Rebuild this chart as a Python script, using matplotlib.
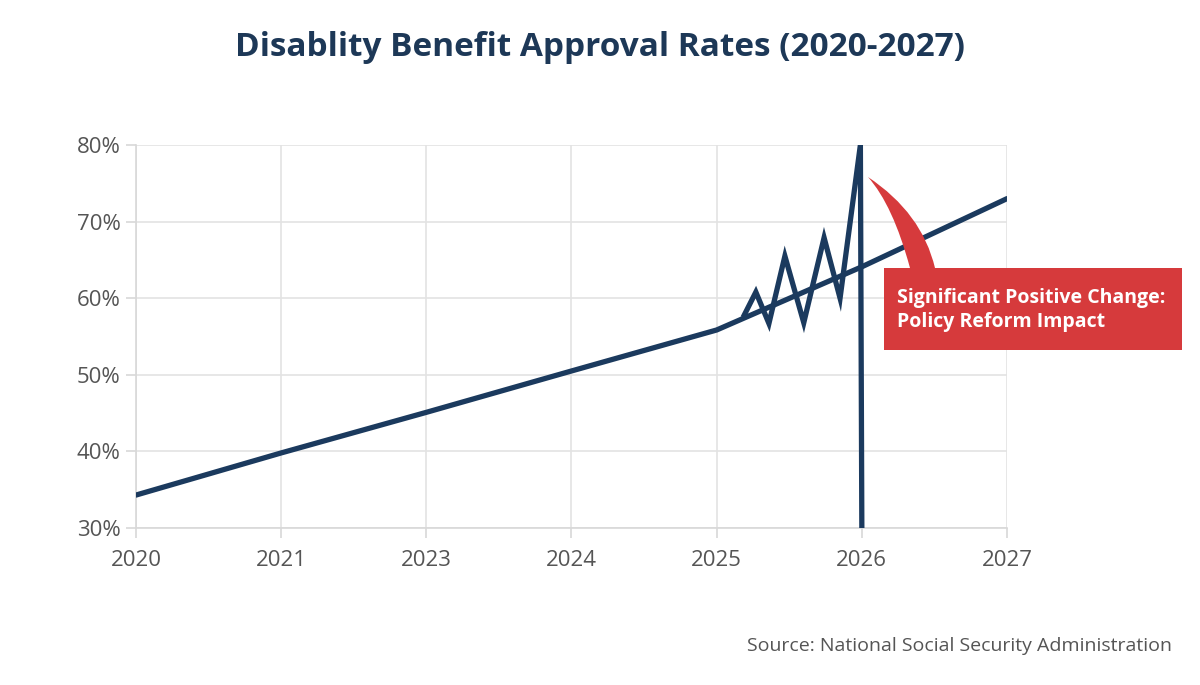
import matplotlib
matplotlib.use("Agg")
import matplotlib.pyplot as plt
from matplotlib.patches import Rectangle, PathPatch
from matplotlib.path import Path

# ---- data ----
year_labels = ["2020", "2021", "2023", "2024", "2025", "2026", "2027"]
trend_values = [34.3, 39.8, 45.1, 50.5, 55.85, 64.1, 73.0]
spike_pos = [4.19, 4.27, 4.36, 4.47, 4.60, 4.74, 4.85, 4.99, 5.0]
spike_values = [57.8, 60.8, 56.7, 65.5, 56.8, 67.9, 60.0, 80.0, 30.0]
y_ticks = [30, 40, 50, 60, 70, 80]

W, H = 1200, 685
fig = plt.figure(figsize=(W / 100, H / 100), dpi=100)
plt.rcParams['font.family'] = ['Open Sans', 'DejaVu Sans']

def fx(px):
    return px / W

def fy(py):
    return 1 - py / H

ax = fig.add_axes([fx(136), fy(528), fx(1007) - fx(136), fy(145) - fy(528)])
navy = "#1b3a5e"
x = list(range(len(year_labels)))
ax.plot(x, trend_values, color=navy, lw=3.8, solid_capstyle="round", zorder=3)
ax.plot(spike_pos, spike_values, color=navy, lw=3.8, solid_joinstyle="miter", zorder=3)

ax.set_xlim(0, 6)
ax.set_ylim(30, 80)
ax.set_xticks(x)
ax.set_xticklabels(year_labels)
ax.set_yticks(y_ticks)
ax.set_yticklabels([f"{v}%" for v in y_ticks])
ax.grid(True, color="#e3e3e3", lw=1.2)
ax.set_axisbelow(True)
for s in ["top", "right"]:
    ax.spines[s].set_visible(False)
for s in ["left", "bottom"]:
    ax.spines[s].set_color("#d8d8d8")
    ax.spines[s].set_linewidth(1.2)
ax.tick_params(axis="both", colors="#d8d8d8", labelcolor="#555555", labelsize=16, length=7, width=1.2)
ax.tick_params(axis="x", pad=9)
ax.tick_params(axis="y", pad=4)

# title
fig.text(0.5, fy(47), "Disablity Benefit Approval Rates (2020-2027)", ha="center", va="center",
         fontsize=24, fontweight="bold", color="#1d3857")

# source
fig.text(fx(1172), fy(646), "Source: National Social Security Administration", ha="right", va="center",
         fontsize=14, color="#555555")

# callout
red = "#d63a3c"
box = Rectangle((fx(884), fy(350)), fx(1182) - fx(884), fy(268) - fy(350),
                transform=fig.transFigure, facecolor=red, edgecolor="none", zorder=5)
fig.patches.append(box)
verts = [(fx(910), fy(268)), (fx(893), fy(205)), (fx(868), fy(177)),
         (fx(922), fy(213)), (fx(935), fy(268)), (fx(910), fy(268))]
codes = [Path.MOVETO, Path.CURVE3, Path.CURVE3, Path.CURVE3, Path.CURVE3, Path.CLOSEPOLY]
tail = PathPatch(Path(verts, codes), transform=fig.transFigure, facecolor=red, edgecolor="none", zorder=5)
fig.patches.append(tail)
fig.text(fx(897), fy(310), "Significant Positive Change:\nPolicy Reform Impact", ha="left", va="center",
         fontsize=14, fontweight="bold", color="white", linespacing=1.3, zorder=6)

fig.savefig("out.png", dpi=100)
